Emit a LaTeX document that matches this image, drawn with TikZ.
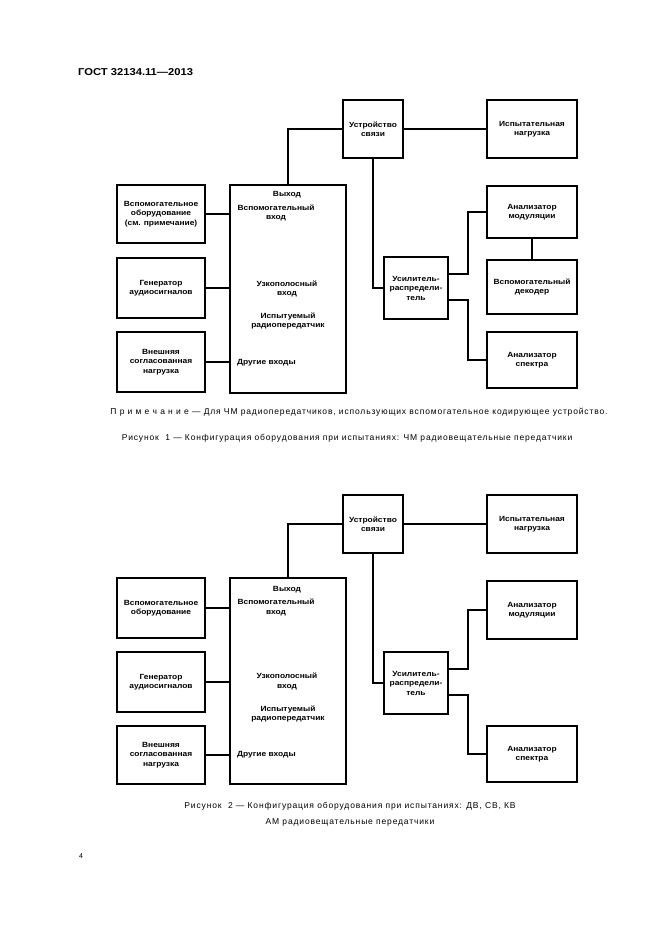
\documentclass[tikz,border=0pt]{standalone}
\usepackage{fontspec}
\setmainfont{Liberation Sans}
\newfontfamily\bxfont[FakeStretch=1.12]{Liberation Sans}
\newfontfamily\capfont[LetterSpace=10]{Liberation Sans}
\usetikzlibrary{calc}
\begin{document}
\begin{tikzpicture}[x=1pt,y=-1pt,
  box/.style={draw,line width=2pt,rectangle,inner sep=0pt,align=center,
    font=\bxfont\bfseries\fontsize{7.5}{9.5}\selectfont},
  lbl/.style={inner sep=0pt,align=center,font=\bxfont\bfseries\fontsize{7.5}{9.5}\selectfont},
  wire/.style={line width=2pt},
  captxt/.style={inner sep=0pt,align=center,font=\capfont\fontsize{8.5}{16}\selectfont}]
\useasboundingbox[fill=white] (0,0) rectangle (661,936);

\node[inner sep=0pt,anchor=west,font=\bxfont\bfseries\fontsize{10}{12}\selectfont] (hdr) at (78,72) {ГОСТ 32134.11—2013};

% ---------- Figure 1 ----------
\node[box,minimum width=60,minimum height=58] (sv1) at (373,129) {Устройство\\связи};
\node[box,minimum width=90,minimum height=58] (isp1) at (532,129) {Испытательная\\нагрузка};
\node[box,minimum width=90,minimum height=52] (am1) at (532,212) {Анализатор\\модуляции};
\node[box,minimum width=90,minimum height=54] (dec1) at (532,287) {Вспомогательный\\декодер};
\node[box,minimum width=90,minimum height=56] (sp1) at (532,360) {Анализатор\\спектра};
\node[box,minimum width=64,minimum height=62] (amp1) at (416,288) {Усилитель-\\распредели-\\тель};
\node[box,minimum width=116,minimum height=208] (tx1) at (288,289) {};
\node[box,minimum width=88,minimum height=58] (aux1) at (161,214) {Вспомогательное\\оборудование\\(см. примечание)};
\node[box,minimum width=88,minimum height=60] (gen1) at (161,288) {Генератор\\аудиосигналов};
\node[box,minimum width=88,minimum height=60] (ext1) at (161,362) {Внешняя\\согласованная\\нагрузка};

\node[lbl] (out1) at (287,195) {Выход};
\node[lbl] (auxin1) at (276,213) {Вспомогательный\\вход};
\node[lbl] (nbin1) at (287,289) {Узкополосный\\вход};
\node[lbl] (dut1) at (288,321) {Испытуемый\\радиопередатчик};
\node[lbl,anchor=west] (oth1) at (237,363) {Другие входы};

\draw[wire] (aux1.east) -- (aux1.east -| tx1.west);
\draw[wire] (gen1.east) -- (gen1.east -| tx1.west);
\draw[wire] (ext1.east) -- (ext1.east -| tx1.west);
\draw[wire] (tx1.north) |- (sv1.west);
\draw[wire] (sv1.east) -- (isp1.west);
\draw[wire] (sv1.south) |- (amp1.west);
\draw[wire] ([yshift=14pt]amp1.east) -- ++(19,0) |- (am1.west);
\draw[wire] ([yshift=-12pt]amp1.east) -- ++(19,0) |- (sp1.west);
\draw[wire] (am1.south) -- (dec1.north);

\node[captxt] (note1) at (359,412) {П р и м е ч а н и е — Для ЧМ радиопередатчиков, использующих вспомогательное кодирующее устройство.};
\node[captxt] (cap1) at (347,438) {Рисунок\ \ 1 — Конфигурация оборудования при испытаниях: ЧМ радиовещательные передатчики};

% ---------- Figure 2 ----------
\node[box,minimum width=60,minimum height=58] (sv2) at (373,524) {Устройство\\связи};
\node[box,minimum width=90,minimum height=58] (isp2) at (532,524) {Испытательная\\нагрузка};
\node[box,minimum width=90,minimum height=58] (am2) at (532,610) {Анализатор\\модуляции};
\node[box,minimum width=90,minimum height=56] (sp2) at (532,754) {Анализатор\\спектра};
\node[box,minimum width=64,minimum height=62] (amp2) at (416,683) {Усилитель-\\распредели-\\тель};
\node[box,minimum width=116,minimum height=206] (tx2) at (288,681) {};
\node[box,minimum width=88,minimum height=60] (aux2) at (161,608) {Вспомогательное\\оборудование};
\node[box,minimum width=88,minimum height=60] (gen2) at (161,682) {Генератор\\аудиосигналов};
\node[box,minimum width=88,minimum height=58] (ext2) at (161,755) {Внешняя\\согласованная\\нагрузка};

\node[lbl] (out2) at (287,590) {Выход};
\node[lbl] (auxin2) at (276,607.5) {Вспомогательный\\вход};
\node[lbl] (nbin2) at (287,681.5) {Узкополосный\\вход};
\node[lbl] (dut2) at (288,714) {Испытуемый\\радиопередатчик};
\node[lbl,anchor=west] (oth2) at (237,755) {Другие входы};

\draw[wire] (aux2.east) -- (aux2.east -| tx2.west);
\draw[wire] (gen2.east) -- (gen2.east -| tx2.west);
\draw[wire] (ext2.east) -- (ext2.east -| tx2.west);
\draw[wire] (tx2.north) |- (sv2.west);
\draw[wire] (sv2.east) -- (isp2.west);
\draw[wire] (sv2.south) |- (amp2.west);
\draw[wire] ([yshift=14pt]amp2.east) -- ++(19,0) |- (am2.west);
\draw[wire] ([yshift=-12pt]amp2.east) -- ++(19,0) |- (sp2.west);

\node[captxt] (cap2) at (350,814) {Рисунок\ \ 2 — Конфигурация оборудования при испытаниях: ДВ, СВ, КВ\\АМ радиовещательные передатчики};

\node[inner sep=0pt,font=\fontsize{7}{8}\selectfont] (pg) at (81,856) {4};
\end{tikzpicture}
\end{document}
